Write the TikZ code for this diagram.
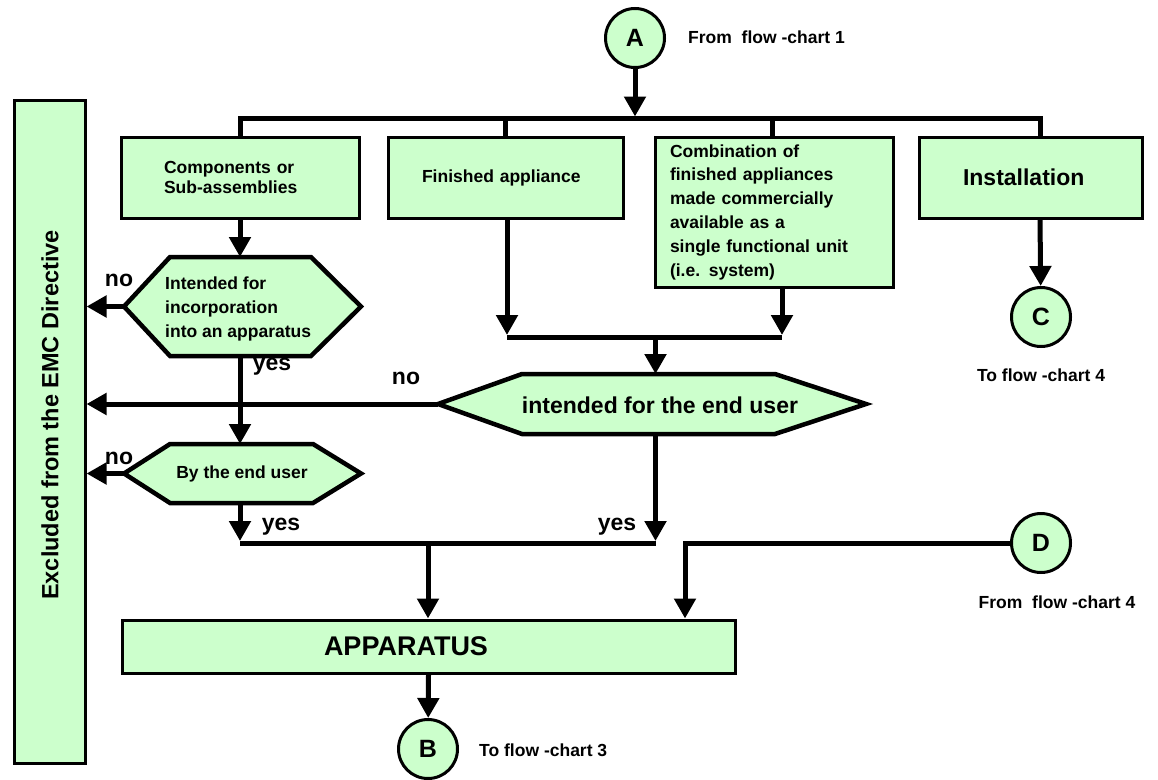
\documentclass[tikz,border=0pt]{standalone}
\usepackage{fontspec}
\setmainfont{Liberation Sans}
\usetikzlibrary{arrows.meta,calc}
\definecolor{pale}{HTML}{CCFFCC}
\tikzset{
  box/.style={draw, line width=3pt, fill=pale, rectangle, inner ysep=0pt},
  btxt/.style={font=\fontsize{17.5}{20}\selectfont\bfseries},
  conn/.style={line width=5pt},
  arr/.style={conn, -{Triangle[width=21pt,length=20pt]}},
  hexs/.style={draw, line width=4.5pt, fill=pale, line join=miter},
  circ/.style={circle, draw, line width=3pt, fill=pale, minimum size=59pt, inner sep=0pt, font=\fontsize{25}{25}\selectfont\bfseries},
  lbl/.style={font=\fontsize{23}{23}\selectfont\bfseries, inner sep=0pt},
  note/.style={font=\fontsize{17.5}{17.5}\selectfont\bfseries, inner sep=0pt},
}
\begin{document}
\begin{tikzpicture}[x=1pt,y=-1pt]
\useasboundingbox (0,0) rectangle (1158,779);

% left excluded box
\node[box, minimum width=71pt, minimum height=663pt, inner xsep=0pt, anchor=north west] (excl) at (12.5,99) {};
\node[rotate=90, inner sep=0pt, font=\fontsize{23.5}{23.5}\selectfont\bfseries] (excltxt) at (50,415) {Excluded from the EMC Directive};

% top boxes
\node[box, btxt, minimum width=238pt, minimum height=81pt, inner xsep=43pt, text width=152pt, align=left] (comp) at (240,177.5) {Components or\\Sub-assemblies};
\node[box, btxt, minimum width=235pt, minimum height=81pt, inner xsep=34pt, text width=167pt, align=left] (fin) at (505.5,177.5) {Finished appliance};
\node[box, font=\fontsize{17.5}{23.8}\selectfont\bfseries, minimum width=238pt, minimum height=150pt, inner xsep=15pt, text width=208pt, align=left] (comb) at (774,212) {Combination of\\finished appliances\\made commercially\\available as a\\single functional unit\\(i.e. system)};
\node[box, font=\fontsize{23}{23}\selectfont\bfseries, minimum width=223pt, minimum height=81pt, inner xsep=44pt, text width=135pt, align=left] (inst) at (1030.5,177.5) {Installation};

% connector circles
\node[circ] (A) at (635,38) {A};
\node[note, anchor=west] (Atxt) at (688,37) {From\ \ flow -chart 1};
\node[circ] (C) at (1041,317) {C};
\node[note] (Ctxt) at (1041,375) {To flow -chart 4};
\node[circ] (D) at (1041,543) {D};
\node[note] (Dtxt) at (1057,602) {From\ \ flow -chart 4};
\node[circ] (B) at (428,749) {B};
\node[note, anchor=west] (Btxt) at (479,750) {To flow -chart 3};

% hexagon 1
\draw[hexs] (124,306.5) -- (170,257) -- (311,257) -- (361,306.5) -- (311,356) -- (170,356) -- cycle;
\coordinate (h1w) at (124,306.5);
\coordinate (h1n) at (240,257);
\coordinate (h1s) at (240,356);
\node[font=\fontsize{17.5}{24}\selectfont\bfseries, align=left, anchor=west, inner sep=0pt] (h1) at (165,309) {Intended for\\incorporation\\into an apparatus};

% hexagon 2
\draw[hexs] (438,404) -- (522,374) -- (775,374) -- (866,404) -- (775,434) -- (522,434) -- cycle;
\coordinate (h2w) at (438,404);
\coordinate (h2n) at (655.5,374);
\coordinate (h2s) at (655.5,434);
\node[font=\fontsize{23}{23}\selectfont\bfseries, inner sep=0pt] (h2) at (660,405) {intended for the end user};

% hexagon 3
\draw[hexs] (124,473.5) -- (170,444) -- (313,444) -- (361,473.5) -- (313,503) -- (170,503) -- cycle;
\coordinate (h3w) at (124,473.5);
\coordinate (h3n) at (240,444);
\coordinate (h3s) at (240,503);
\node[btxt, inner sep=0pt] (h3) at (242,474) {By the end user};

% apparatus
\node[box, minimum width=613pt, minimum height=53pt, inner xsep=202pt, text width=209pt, align=left, font=\fontsize{27}{27}\selectfont\bfseries] (app) at (428.5,646.5) {APPARATUS};

% top bus
\coordinate (tl) at (240,118.5);
\coordinate (tr) at (1040,118.5);
\draw[conn] (comp.north) -- (comp.north |- tl) -- (tr) -- (tr |- inst.north);
\draw[conn] (fin.north) -- (fin.north |- tl);
\draw[conn] (772,118.5) coordinate (cbt) -- (cbt |- comb.north);
\draw[arr] (A) -- ($(A |- tl)+(0,-2)$);
\draw[arr] (tr |- inst.south) -- (C);

% merge of finished and combination
\coordinate (m) at (655.5,337);
\coordinate (mL) at (507,337);
\coordinate (mR) at (782,337);
\draw[conn] (mL) -- (mR);
\draw[arr] (mL |- fin.south) -- ($(mL)+(0,-2)$);
\draw[arr] (mR |- comb.south) -- ($(mR)+(0,-2)$);
\draw[arr] (m) -- (h2n);

% decisions
\draw[arr] (comp.south) -- (h1n);
\draw[arr] (h1w) -- (h1w -| excl.east);
\draw[arr] (h2w) -- (h2w -| excl.east);
\draw[arr] (h1s) -- (h3n);
\draw[arr] (h3w) -- (h3w -| excl.east);

% bottom bus
\coordinate (bl) at (240,543);
\coordinate (br) at (655.5,543);
\coordinate (bm) at (428,543);
\draw[conn] (bl) -- (br);
\draw[arr] (h3s) -- ($(bl)+(0,-2)$);
\draw[arr] (h2s) -- ($(br)+(0,-2)$);
\draw[arr] (bm) -- (bm |- app.north);
\coordinate (dk) at (685,543);
\draw[arr] (D.west) -- (dk) -- (dk |- app.north);
\draw[arr] (app.south) -- (B);

% labels
\node[lbl] (no1) at (119,280) {no};
\node[lbl] (no2) at (406,378) {no};
\node[lbl] (no3) at (119,458) {no};
\node[lbl] (yes1) at (272,367) {yes};
\node[lbl] (yes2) at (281,527) {yes};
\node[lbl] (yes3) at (617,527) {yes};
\end{tikzpicture}
\end{document}
